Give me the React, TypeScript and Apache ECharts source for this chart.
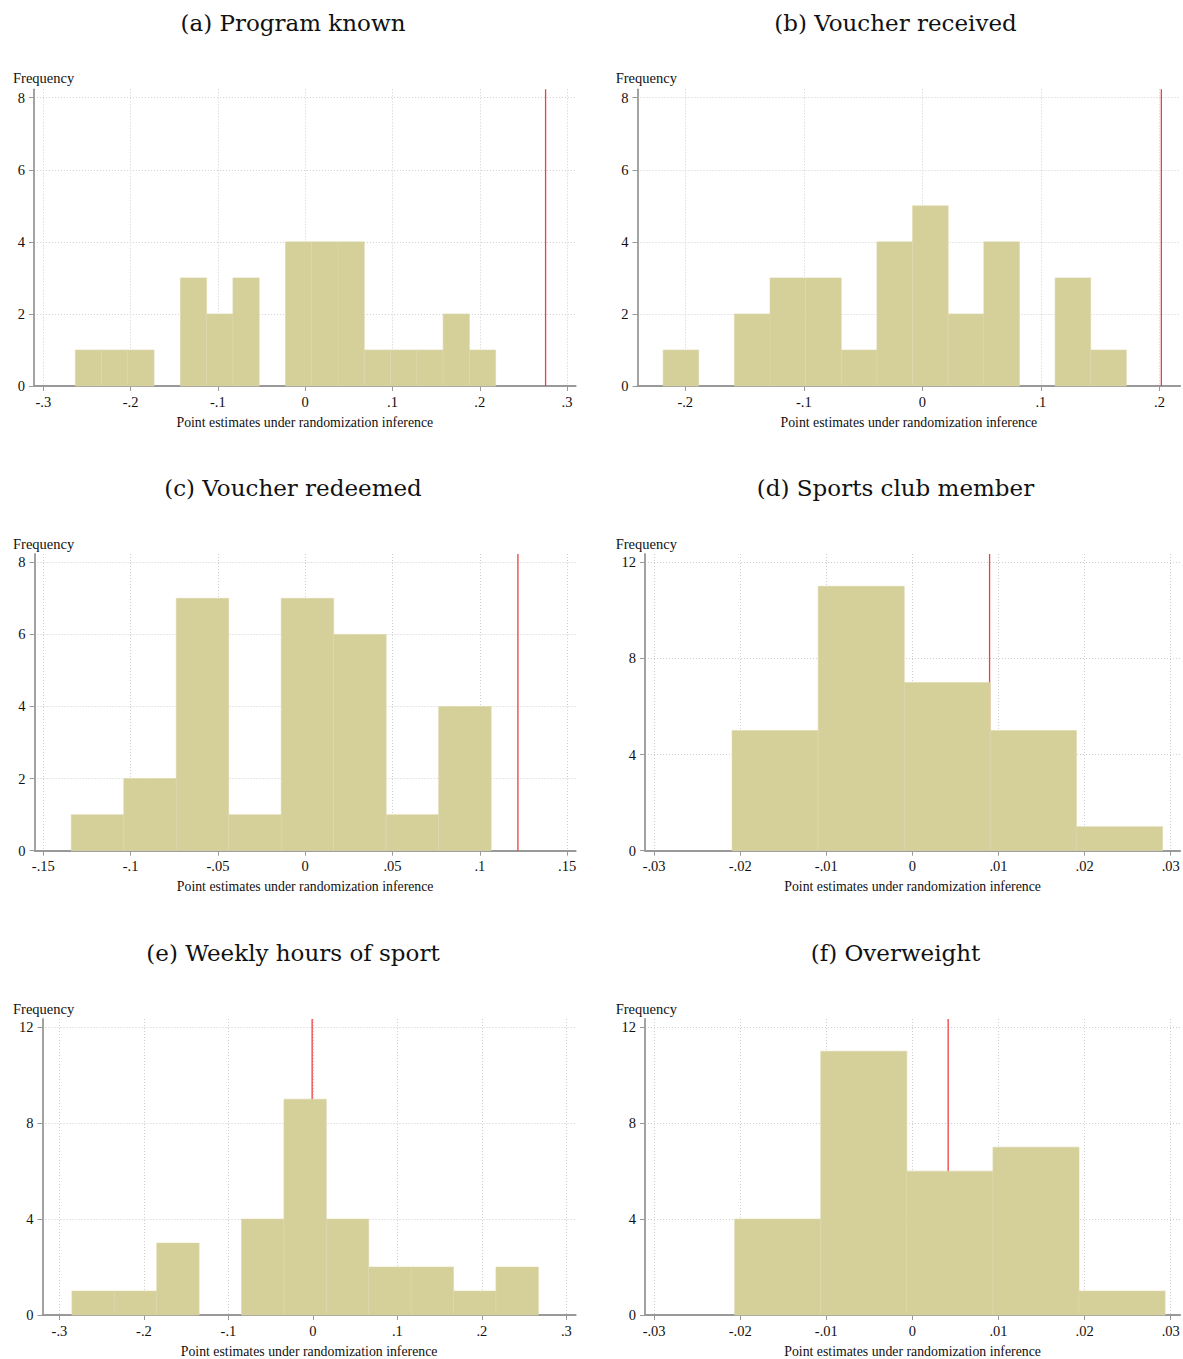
import React, { useEffect, useRef } from 'react';
import * as echarts from 'echarts';

// ---------- data ----------
const panelTitles = [
  '(a) Program known',
  '(b) Voucher received',
  '(c) Voucher redeemed',
  '(d) Sports club member',
  '(e) Weekly hours of sport',
  '(f) Overweight',
];

// histogram counts per bin
const countsA = [1, 1, 1, 0, 3, 2, 3, 0, 4, 4, 4, 1, 1, 1, 2, 1];
const countsB = [1, 0, 2, 3, 3, 1, 4, 5, 2, 4, 0, 3, 1];
const countsC = [1, 2, 7, 1, 7, 6, 1, 4];
const countsD = [5, 11, 7, 5, 1];
const countsE = [1, 1, 3, 0, 4, 9, 4, 2, 2, 1, 2];
const countsF = [4, 11, 6, 7, 1];

// first bin's left edge and bin width
const binStarts = [-0.2634, -0.2187, -0.134, -0.02095, -0.2853, -0.02065];
const binWidths = [0.0301, 0.03006, 0.03006, 0.01, 0.0502, 0.01];

// actual point estimate (red line)
const observedEstimates = [0.2754, 0.2016, 0.1218, 0.00896, -0.0009, 0.00415];

// tick labels
const xTicksA = [-0.3, -0.2, -0.1, 0, 0.1, 0.2, 0.3];
const xTicksB = [-0.2, -0.1, 0, 0.1, 0.2];
const xTicksC = [-0.15, -0.1, -0.05, 0, 0.05, 0.1, 0.15];
const xTicksD = [-0.03, -0.02, -0.01, 0, 0.01, 0.02, 0.03];
const xTicksE = [-0.3, -0.2, -0.1, 0, 0.1, 0.2, 0.3];
const xTicksF = [-0.03, -0.02, -0.01, 0, 0.01, 0.02, 0.03];
const yTicks8 = [0, 2, 4, 6, 8];
const yTicks12 = [0, 4, 8, 12];

// visible axis ranges
const xRanges = [
  [-0.3108, 0.3099],
  [-0.2403, 0.2175],
  [-0.155, 0.1549],
  [-0.03106, 0.0311],
  [-0.3201, 0.3111],
  [-0.03106, 0.0311],
];
const yMaxes = [8.233, 8.233, 8.23, 12.345, 12.345, 12.345];

const xAxisTitle = 'Point estimates under randomization inference';
const yAxisTitle = 'Frequency';

// ---------- layout ----------
const gridBoxes = [
  { left: 33.9, top: 89.3, width: 541.8, height: 296.7 },
  { left: 637.5, top: 89.3, width: 542.7, height: 296.7 },
  { left: 34.6, top: 554, width: 541.1, height: 296.7 },
  { left: 645, top: 554, width: 535.2, height: 296.7 },
  { left: 42.5, top: 1019, width: 533.2, height: 296.7 },
  { left: 645, top: 1019, width: 535.2, height: 296.7 },
];
const titlePos = [
  [293, 23], [895.5, 23],
  [293, 488], [895.5, 488],
  [293, 953], [895.5, 953],
];
const freqPos = [
  [13, 78], [615.7, 78],
  [13, 544], [615.7, 544],
  [13, 1009], [615.7, 1009],
];

const BAR_COLOR = '#d5cf9a';
const RED = '#ec4040';
const AXIS_COLOR = '#999999';
const GRID_COLOR = '#cfcfcf';
const SERIF = '"Liberation Serif", "Times New Roman", serif';
const TITLE_FONT = '"DejaVu Serif", serif';

const fmt = (v: number) => {
  const r = Math.round(v * 10000) / 10000;
  if (r === 0) return '0';
  return String(r).replace('0.', '.');
};

export default function App() {
  const ref = useRef<HTMLDivElement>(null);

  useEffect(() => {
    document.body.style.margin = '0';
    if (!ref.current) return;
    const chart = echarts.init(ref.current, undefined, { renderer: 'svg' });

    const allCounts = [countsA, countsB, countsC, countsD, countsE, countsF];
    const allXTicks = [xTicksA, xTicksB, xTicksC, xTicksD, xTicksE, xTicksF];
    const allYTicks = [yTicks8, yTicks8, yTicks8, yTicks12, yTicks12, yTicks12];

    const grids: any[] = [];
    const xAxes: any[] = [];
    const yAxes: any[] = [];
    const series: any[] = [];
    const graphics: any[] = [];

    allCounts.forEach((counts, i) => {
      grids.push({ ...gridBoxes[i], containLabel: false });
      xAxes.push({
        type: 'value',
        gridIndex: i,
        min: xRanges[i][0],
        max: xRanges[i][1],
        name: xAxisTitle,
        nameLocation: 'middle',
        nameGap: 29,
        nameTextStyle: { fontFamily: SERIF, fontSize: 13.8, color: '#111' },
        axisLine: { onZero: false, lineStyle: { color: AXIS_COLOR, width: 1.8 } },
        axisTick: {
          show: true,
          customValues: allXTicks[i],
          length: 5,
          lineStyle: { color: AXIS_COLOR, width: 1 },
        },
        axisLabel: {
          customValues: allXTicks[i],
          formatter: fmt,
          fontFamily: SERIF,
          fontSize: 14.5,
          color: '#111',
          margin: 8,
        },
        splitLine: {
          show: true,
          lineStyle: { color: GRID_COLOR, type: [1, 2], width: 1 },
        },
      });
      yAxes.push({
        type: 'value',
        gridIndex: i,
        min: 0,
        max: yMaxes[i],
        axisLine: { show: true, onZero: false, lineStyle: { color: AXIS_COLOR, width: 1.8 } },
        axisTick: {
          show: true,
          customValues: allYTicks[i],
          length: 5,
          lineStyle: { color: AXIS_COLOR, width: 1 },
        },
        axisLabel: {
          customValues: allYTicks[i],
          formatter: fmt,
          fontFamily: SERIF,
          fontSize: 14.5,
          color: '#111',
          margin: 9,
        },
        splitLine: {
          show: true,
          lineStyle: { color: GRID_COLOR, type: [1, 2], width: 1 },
        },
      });

      const barData = counts.map((c, k) => [
        binStarts[i] + k * binWidths[i],
        binStarts[i] + (k + 1) * binWidths[i],
        c,
      ]);

      series.push({
        type: 'line',
        xAxisIndex: i,
        yAxisIndex: i,
        data: [
          [observedEstimates[i], 0],
          [observedEstimates[i], yMaxes[i]],
        ],
        showSymbol: false,
        symbol: 'none',
        lineStyle: { color: RED, width: 1.3 },
        z: 1,
        silent: true,
      });

      series.push({
        type: 'custom',
        xAxisIndex: i,
        yAxisIndex: i,
        data: barData,
        encode: { x: [0, 1], y: 2 },
        z: 3,
        silent: true,
        renderItem: (params: any, api: any) => {
          const v = api.value(2);
          if (!v) return null;
          const p0 = api.coord([api.value(0), v]);
          const p1 = api.coord([api.value(1), 0]);
          return {
            type: 'rect',
            shape: { x: p0[0], y: p0[1], width: p1[0] - p0[0], height: p1[1] - p0[1] },
            style: { fill: BAR_COLOR, stroke: '#dcd7a9', lineWidth: 0.6 },
          };
        },
      });

      graphics.push({
        type: 'text',
        x: titlePos[i][0],
        y: titlePos[i][1],
        style: {
          text: panelTitles[i],
          fontFamily: TITLE_FONT,
          fontSize: 23,
          fill: '#111',
          textAlign: 'center',
          textVerticalAlign: 'middle',
          align: 'center',
          verticalAlign: 'middle',
        },
      });
      graphics.push({
        type: 'text',
        x: freqPos[i][0],
        y: freqPos[i][1],
        style: {
          text: yAxisTitle,
          fontFamily: SERIF,
          fontSize: 14.5,
          fill: '#111',
          textAlign: 'left',
          textVerticalAlign: 'middle',
          align: 'left',
          verticalAlign: 'middle',
        },
      });
    });

    chart.setOption({
      animation: false,
      backgroundColor: '#ffffff',
      grid: grids,
      xAxis: xAxes,
      yAxis: yAxes,
      series,
      graphic: graphics,
    });

    return () => chart.dispose();
  }, []);

  return (
    <div
      ref={ref}
      style={{ position: 'absolute', left: 0, top: 0, width: 1183, height: 1359, background: '#fff' }}
    />
  );
}
